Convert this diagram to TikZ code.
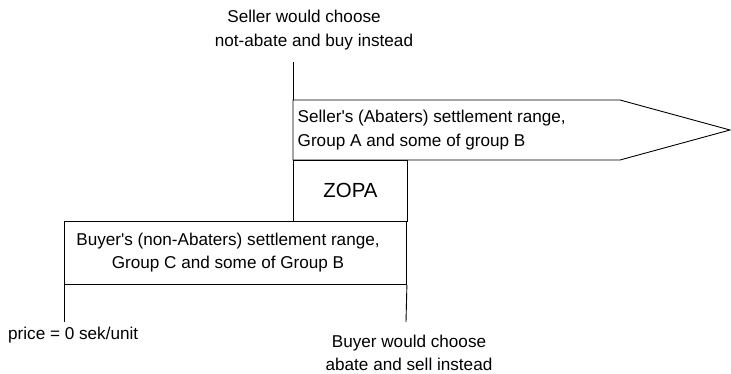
\documentclass[tikz,border=0pt]{standalone}
\usepackage{fontspec}
\setmainfont{Liberation Sans}
\begin{document}
\begin{tikzpicture}[x=1bp,y=-1bp,
  lbl/.style={font=\fontsize{17.2}{23.5}\selectfont, inner sep=0pt, align=center},
  ln/.style={draw=black, line width=0.9pt}]
\useasboundingbox (0,0) rectangle (731,373);
% seller arrow box
\coordinate (sTL) at (293,100);
\coordinate (sBR) at (620,160);
\coordinate (sTip) at (730,130);
\draw[ln] (sTL) -- (620,100) -- (sTip) -- (sBR) -- (293,160) -- cycle;
\node[lbl, align=left, anchor=west] (seller) at (297.5,130) {Seller\textquotesingle s (Abaters) settlement range,\\Group A and some of group B};
% ZOPA
\node[ln, minimum width=114bp, minimum height=61bp, inner sep=0pt, anchor=north west] (zopa) at (293,160) {};
\node[lbl, font=\fontsize{20.5}{24}\selectfont] (zopat) at (350.5,190.2) {ZOPA};
% buyer box
\node[ln, minimum width=342bp, minimum height=63bp, inner sep=0pt, anchor=north west] (buyer) at (64,221) {};
\node[lbl] (buyert) at (228,252.5) {Buyer\textquotesingle s (non-Abaters) settlement range,\\Group C and some of Group B};
% lines
\coordinate (topS) at (293,62);
\coordinate (botL) at (64,322);
\coordinate (botR) at (406,322);
\draw[ln] (topS) -- (sTL);
\draw[ln] (buyer.south west) -- (botL);
\draw[ln] (buyer.south east) -- (botR);
% labels
\node[lbl] (selltxt) at (314,30) {Seller would choose\hspace*{20bp}\\not-abate and buy instead};
\node[lbl, anchor=west] (price) at (8,335) {price = 0 sek/unit};
\node[lbl] (buytxt) at (409,353) {Buyer would choose\\abate and sell instead};
\end{tikzpicture}
\end{document}
